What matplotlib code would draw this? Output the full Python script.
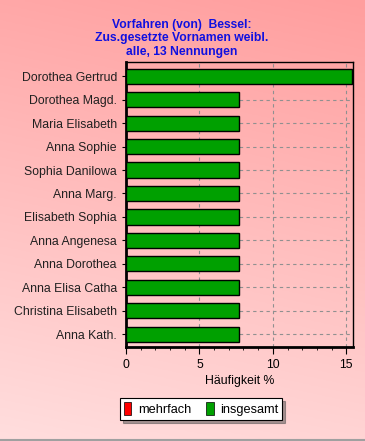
import numpy as np
import matplotlib
matplotlib.use("Agg")
import matplotlib.pyplot as plt
from matplotlib.patches import Patch

names = ["Dorothea Gertrud", "Dorothea Magd.", "Maria Elisabeth", "Anna Sophie",
         "Sophia Danilowa", "Anna Marg.", "Elisabeth Sophia", "Anna Angenesa",
         "Anna Dorothea", "Anna Elisa Catha", "Christina Elisabeth", "Anna Kath."]
insgesamt = [15.38, 7.69, 7.69, 7.69, 7.69, 7.69, 7.69, 7.69, 7.69, 7.69, 7.69, 7.69]
xticks = [0, 5, 10, 15]
title = "Vorfahren (von)  Bessel:\nZus.gesetzte Vornamen weibl.\nalle, 13 Nennungen"
legend_labels = ["mehrfach", "insgesamt"]

plt.rcParams['font.family'] = ['Liberation Sans', 'DejaVu Sans']

fig = plt.figure(figsize=(3.65, 4.41), dpi=100)

# background gradient
bg = fig.add_axes([0, 0, 1, 1], zorder=-10)
h, w = 200, 100
yy, xx = np.mgrid[0:1:h*1j, 0:1:w*1j]
t = np.clip(0.85 * yy + 0.15 * (1 - xx), 0, 1)
top = np.array([255, 158, 158]) / 255
bot = np.array([255, 222, 222]) / 255
img = top[None, None, :] * (1 - t[..., None]) + bot[None, None, :] * t[..., None]
bg.imshow(img, aspect='auto', extent=[0, 1, 0, 1], origin='upper')
bg.plot([0, 1], [0.002, 0.002], color='#a0a0a0', lw=1.5)
bg.set_xlim(0, 1); bg.set_ylim(0, 1)
bg.axis('off')

ax = fig.add_axes([0.345, 0.213, 0.622, 0.646])
ax.patch.set_alpha(0)
y = np.arange(len(names))
ax.barh(y, insgesamt, height=0.65, color='#00a000', edgecolor='black', linewidth=1, zorder=3)
ax.set_yticks(y)
ax.set_yticklabels(names, fontsize=8.8, color='#202020')
ax.set_ylim(len(names) - 0.45, -0.6)
ax.set_xlim(0, 15.45)
ax.set_xticks(xticks)
ax.set_xticks(np.arange(0, 16, 1), minor=True)
ax.tick_params(axis='x', which='major', length=5, labelsize=8.8, colors='black')
ax.tick_params(axis='x', which='minor', length=2.5)
ax.tick_params(axis='y', length=3)
ax.grid(True, axis='both', which='major', linestyle=(0, (3, 3)), color='#909090', lw=0.8, zorder=0)
for s in ['left', 'bottom']:
    ax.spines[s].set_linewidth(2)
for s in ['top', 'right']:
    ax.spines[s].set_linewidth(1)
ax.set_xlabel("Häufigkeit %", fontsize=8.8, labelpad=3)
fig.text(0.497, 1 - 38.5 / 441, title, fontsize=8.7, fontweight='bold', color='#1010e0',
         ha='center', va='center', linespacing=1.2)

handles = [Patch(facecolor='#ff0000', edgecolor='black', lw=0.5),
           Patch(facecolor='#00a000', edgecolor='black', lw=0.5)]
leg = fig.legend(handles, legend_labels, loc='center', bbox_to_anchor=(0.551, 0.0725),
                 ncol=2, fontsize=9.2, frameon=True, fancybox=False, shadow=True,
                 handlelength=0.6, handleheight=1.2, handletextpad=0.5, columnspacing=1.2,
                 borderpad=0.3, borderaxespad=0)
leg.get_frame().set_edgecolor('black')
leg.get_frame().set_linewidth(0.8)

fig.savefig("out.png", dpi=100)
